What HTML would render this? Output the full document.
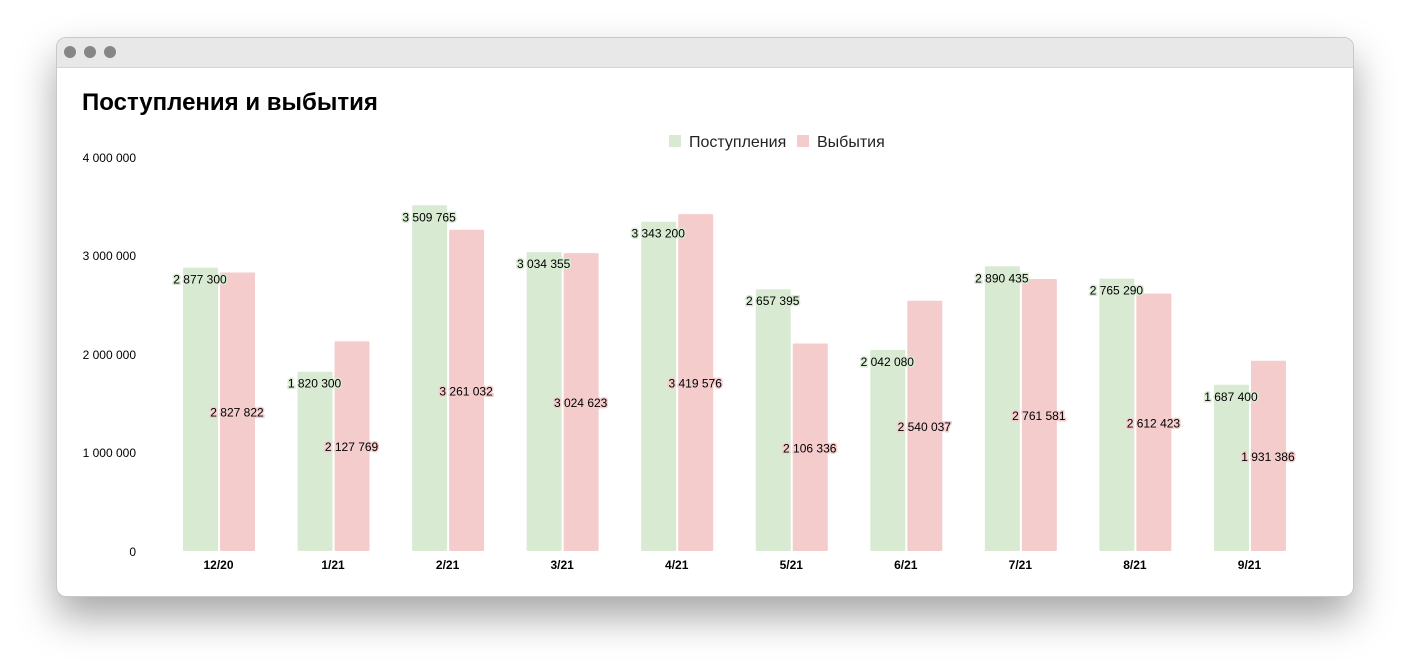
<!DOCTYPE html>
<html><head><meta charset="utf-8"><style>
body{margin:0;width:1410px;height:671px;background:#fff;font-family:"Liberation Sans",Arial,sans-serif;overflow:hidden}
.win{position:absolute;left:56px;top:37px;width:1298px;height:560px;border-radius:10px;background:#fff;box-shadow:0 20px 40px rgba(0,0,0,0.35);overflow:hidden;border:1px solid #c8c8c8;box-sizing:border-box}
.bar{position:absolute;left:0;top:0;width:100%;height:29px;background:#e8e8e8;border-bottom:1px solid #d4d4d4}
.dot{position:absolute;top:8px;width:12px;height:12px;border-radius:50%;background:#868686}
</style></head><body>
<div class="win"><div class="bar"><div class="dot" style="left:7px"></div><div class="dot" style="left:27px"></div><div class="dot" style="left:47px"></div></div></div>
<svg width="1410" height="671" style="position:absolute;left:0;top:0" font-family="Liberation Sans, Arial, sans-serif">
<text x="82" y="110" font-size="24" font-weight="bold" fill="#000">Поступления и выбытия</text>
<rect x="669" y="135" width="12" height="12" fill="#d9ead3"/><text x="689" y="147" font-size="16" fill="#222">Поступления</text>
<rect x="797" y="135" width="12" height="12" fill="#f4cccc"/><text x="817" y="147" font-size="16" fill="#222">Выбытия</text>
<g font-size="12" fill="#000" text-anchor="end">
<text x="136" y="162">4 000 000</text><text x="136" y="260">3 000 000</text><text x="136" y="359">2 000 000</text><text x="136" y="457">1 000 000</text><text x="136" y="556">0</text>
</g>
<g id="g"></g>
</svg>
<script>
var d=[["12/20",2877300,2827822],["1/21",1820300,2127769],["2/21",3509765,3261032],["3/21",3034355,3024623],["4/21",3343200,3419576],["5/21",2657395,2106336],["6/21",2042080,2540037],["7/21",2890435,2761581],["8/21",2765290,2612423],["9/21",1687400,1931386]];
function f(n){return n.toString().replace(/\B(?=(\d{3})+(?!\d))/g," ");}
var s="";
d.forEach(function(r,i){var c=218.5+i*114.55;var h1=r[1]/1e6*98.5,h2=r[2]/1e6*98.5;
s+='<rect x="'+(c-35.5)+'" y="'+(551-h1)+'" width="35" height="'+h1+'" fill="#d9ead3" rx="1"/>';
s+='<rect x="'+(c+1.5)+'" y="'+(551-h2)+'" width="35" height="'+h2+'" fill="#f4cccc" rx="1"/>';
s+='<text x="'+(c-18.5)+'" y="'+(551-h1+16)+'" font-size="12" text-anchor="middle" fill="#000" stroke="#d9ead3" stroke-width="3" paint-order="stroke">'+f(r[1])+'</text>';
s+='<text x="'+(c+18.5)+'" y="'+(551-h2/2+5)+'" font-size="12" text-anchor="middle" fill="#000" stroke="#f4cccc" stroke-width="3" paint-order="stroke">'+f(r[2])+'</text>';
s+='<text x="'+c+'" y="569" font-size="12" font-weight="bold" text-anchor="middle" fill="#000">'+r[0]+'</text>';});
document.getElementById("g").innerHTML=s;
</script>
</body></html>
